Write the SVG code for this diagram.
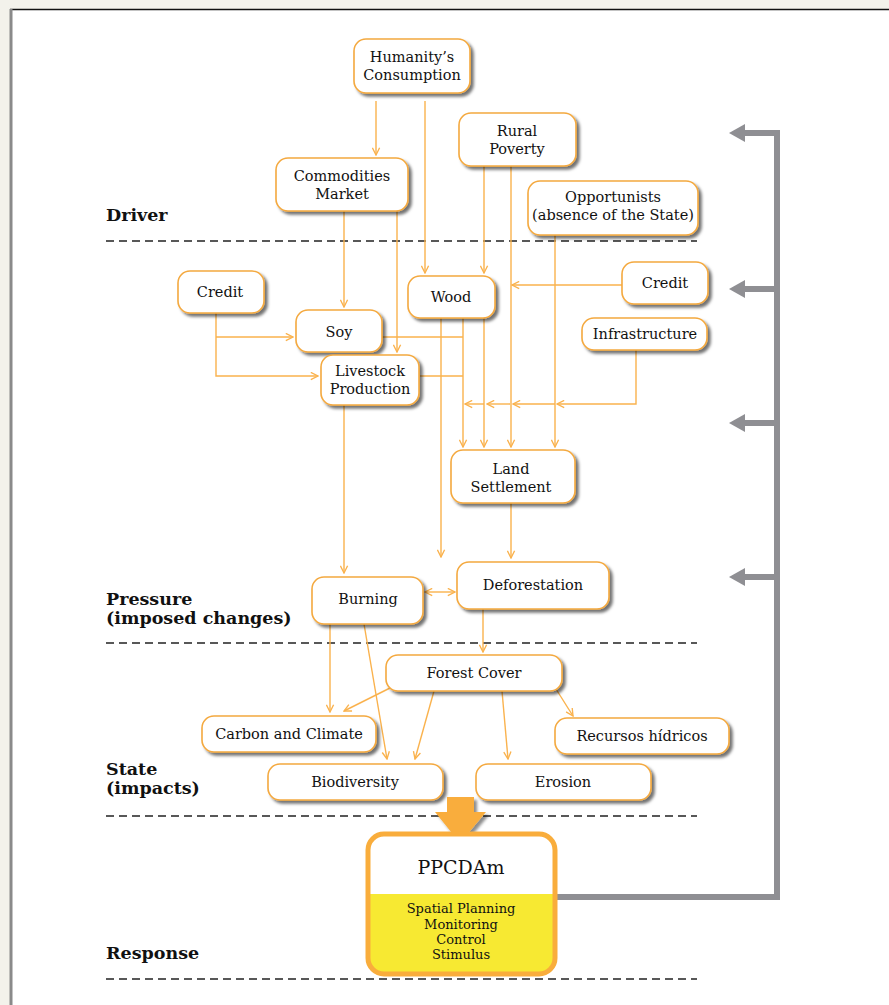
<svg xmlns="http://www.w3.org/2000/svg" width="889" height="1005" viewBox="0 0 889 1005">
<defs>
<style>
.node rect{fill:#fff;stroke:#f4a93f;stroke-width:1.6;filter:url(#sh)}
.node text,.t{font-family:"DejaVu Serif","Liberation Serif",serif;font-size:14.5px;fill:#111;text-anchor:middle}
.lbl{font-family:"DejaVu Serif","Liberation Serif",serif;font-size:17.5px;font-weight:bold;fill:#111}
.dash{stroke:#222;stroke-width:1.3;stroke-dasharray:8 5;fill:none}
.c path{fill:none;stroke:#fab24d;stroke-width:1.4;marker-end:url(#ah)}
.g{fill:none;stroke:#8f8f93;stroke-width:6}
.gh{fill:#8f8f93}
</style>
<filter id="sh" x="-20%" y="-20%" width="150%" height="160%">
<feDropShadow dx="3" dy="3" stdDeviation="1.8" flood-color="#000" flood-opacity="0.55"/>
</filter>
<filter id="sh2" x="-30%" y="-30%" width="160%" height="160%">
<feDropShadow dx="3" dy="3" stdDeviation="1.5" flood-color="#000" flood-opacity="0.45"/>
</filter>
<marker id="ah" viewBox="0 0 10 10" refX="9" refY="5" markerWidth="9" markerHeight="9" markerUnits="userSpaceOnUse" orient="auto-start-reverse">
<path d="M1,1 L9,5 L1,9" fill="none" stroke="#fab24d" stroke-width="1.5"/>
</marker>
<clipPath id="pc"><rect x="368" y="834" width="187" height="140" rx="16"/></clipPath>
</defs>

<rect x="0" y="0" width="889" height="1005" fill="#f3f2eb"/>
<rect x="10" y="9" width="879" height="996" fill="#fff"/>
<line x1="10" y1="9.5" x2="889" y2="9.5" stroke="#111" stroke-width="1.5"/>
<line x1="11" y1="9" x2="11" y2="1005" stroke="#8a8a8a" stroke-width="3"/>

<g id="labels">
<text class="lbl" x="106" y="221">Driver</text>
<text class="lbl" x="106" y="605">Pressure</text>
<text class="lbl" x="106" y="624">(imposed changes)</text>
<text class="lbl" x="106" y="775">State</text>
<text class="lbl" x="106" y="794">(impacts)</text>
<text class="lbl" x="106" y="959">Response</text>
</g>
<g id="dividers">
<line class="dash" x1="106" y1="241" x2="697" y2="241"/>
<line class="dash" x1="106" y1="643" x2="697" y2="643"/>
<line class="dash" x1="106" y1="816" x2="697" y2="816"/>
<line class="dash" x1="106" y1="979" x2="697" y2="979"/>
</g>

<g id="connectors" class="c">
<path d="M376,101 V155"/>
<path d="M425,101 V273"/>
<path d="M484,166 V273"/>
<path d="M511,166 V447"/>
<path d="M555,235 V447"/>
<path d="M344,211 V307"/>
<path d="M397,211 V352"/>
<path d="M622,285 H512"/>
<path d="M216,312 V376 H318"/>
<path d="M216,337 H293"/>
<path d="M382,337 H463" style="marker-end:none"/>
<path d="M420,376 H463" style="marker-end:none"/>
<path d="M463,318 V447"/>
<path d="M484,318 V447"/>
<path d="M441,318 V557"/>
<path d="M636,350 V404 H557"/>
<path d="M555,404 H513"/>
<path d="M510,404 H487"/>
<path d="M484,404 H465"/>
<path d="M344,405 V573"/>
<path d="M511,503 V558"/>
<path d="M425,592 H455" style="marker-start:url(#ah)"/>
<path d="M483,609 V652"/>
<path d="M330,624 V712"/>
<path d="M364,624 L387,759"/>
<path d="M390,688 L344,711"/>
<path d="M434,691 L415,759"/>
<path d="M502,691 L508,759"/>
<path d="M556,689 L573,716"/>
</g>

<g id="feedback">
<path class="g" d="M556,897 H777 V133 H742"/>
<path class="g" d="M777,289 H742 M777,423 H742 M777,577 H742"/>
<polygon class="gh" points="729,133 745,124 745,142"/>
<polygon class="gh" points="729,289 745,280 745,298"/>
<polygon class="gh" points="729,423 745,414 745,432"/>
<polygon class="gh" points="729,577 745,568 745,586"/>
</g>

<g id="n-humanity" class="node"><rect x="354" y="39" width="116" height="54" rx="12"/><text x="412" y="62">Humanity’s</text><text x="412" y="80">Consumption</text></g>
<g id="n-commodities" class="node"><rect x="276" y="158" width="132" height="53" rx="12"/><text x="342" y="181">Commodities</text><text x="342" y="199">Market</text></g>
<g id="n-rural" class="node"><rect x="459" y="113" width="117" height="53" rx="12"/><text x="517" y="136">Rural</text><text x="517" y="154">Poverty</text></g>
<g id="n-opportunists" class="node"><rect x="528" y="181" width="170" height="54" rx="12"/><text x="613" y="202">Opportunists</text><text x="613" y="220">(absence of the State)</text></g>
<g id="n-credit-l" class="node"><rect x="178" y="271" width="86" height="42" rx="12"/><text x="220" y="297">Credit</text></g>
<g id="n-wood" class="node"><rect x="408" y="276" width="87" height="42" rx="12"/><text x="451" y="302">Wood</text></g>
<g id="n-credit-r" class="node"><rect x="622" y="262" width="86" height="42" rx="12"/><text x="665" y="288">Credit</text></g>
<g id="n-soy" class="node"><rect x="296" y="310" width="86" height="42" rx="12"/><text x="339" y="337">Soy</text></g>
<g id="n-infra" class="node"><rect x="582" y="318" width="125" height="32" rx="12"/><text x="645" y="339">Infrastructure</text></g>
<g id="n-livestock" class="node"><rect x="321" y="355" width="98" height="50" rx="12"/><text x="370" y="376">Livestock</text><text x="370" y="394">Production</text></g>
<g id="n-land" class="node"><rect x="451" y="450" width="124" height="53" rx="12"/><text x="511" y="474">Land</text><text x="511" y="492">Settlement</text></g>
<g id="n-burning" class="node"><rect x="312" y="577" width="111" height="47" rx="12"/><text x="368" y="604">Burning</text></g>
<g id="n-deforestation" class="node"><rect x="457" y="562" width="152" height="47" rx="12"/><text x="533" y="590">Deforestation</text></g>
<g id="n-forest" class="node"><rect x="386" y="655" width="176" height="36" rx="12"/><text x="474" y="678">Forest Cover</text></g>
<g id="n-carbon" class="node"><rect x="202" y="716" width="174" height="36" rx="12"/><text x="289" y="739">Carbon and Climate</text></g>
<g id="n-recursos" class="node"><rect x="555" y="718" width="174" height="36" rx="12"/><text x="642" y="741">Recursos hídricos</text></g>
<g id="n-biodiversity" class="node"><rect x="268" y="764" width="175" height="36" rx="12"/><text x="355" y="787">Biodiversity</text></g>
<g id="n-erosion" class="node"><rect x="476" y="764" width="175" height="36" rx="12"/><text x="563" y="787">Erosion</text></g>

<g id="big-arrow">
<polygon points="447,797 474,797 474,812 486,812 460,843 435,812 447,812" fill="#f9ad3c" filter="url(#sh2)"/>
</g>

<g id="n-ppcdam">
<g clip-path="url(#pc)">
<rect x="368" y="834" width="187" height="140" fill="#fff"/>
<rect x="368" y="894" width="187" height="80" fill="#f7e932"/>
</g>
<rect x="368" y="834" width="187" height="140" rx="16" fill="none" stroke="#f9ad3c" stroke-width="5"/>
<text class="t" x="461" y="874" style="font-size:19px">PPCDAm</text>
<text class="t" x="461" y="913" style="font-size:13px">Spatial Planning</text>
<text class="t" x="461" y="929" style="font-size:13px">Monitoring</text>
<text class="t" x="461" y="944" style="font-size:13px">Control</text>
<text class="t" x="461" y="959" style="font-size:13px">Stimulus</text>
</g>
</svg>
